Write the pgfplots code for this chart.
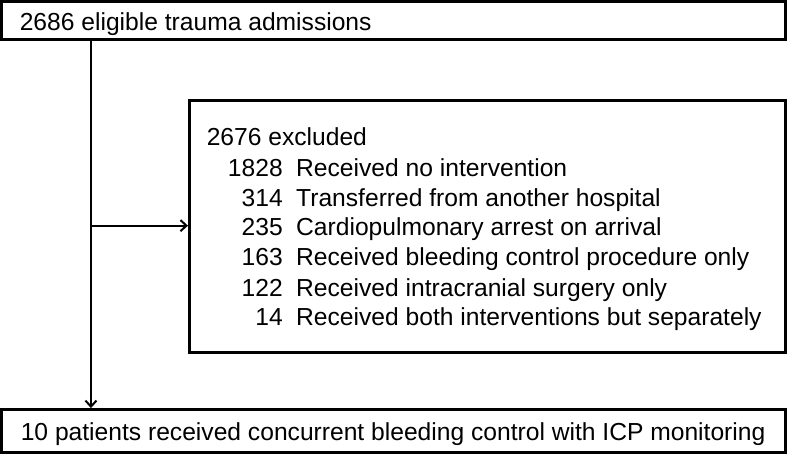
\documentclass[border=0pt]{standalone}
\usepackage{pgfplots}
\pgfplotsset{compat=1.18}
\usetikzlibrary{arrows.meta}
\usepackage{fontspec}
\setmainfont{Liberation Sans}
\tikzset{txt/.style={font=\fontsize{24.5bp}{29bp}\selectfont, inner sep=0pt}}
\begin{document}
\begin{tikzpicture}
\begin{axis}[
  scale only axis, width=787bp, height=457bp,
  xmin=0, xmax=787, ymin=0, ymax=457, y dir=reverse,
  hide axis, clip=false,
]
% boxes
\addplot[black, line width=3bp, line cap=rect, line join=miter] coordinates {(3,4) (783,4) (783,42) (3,42) (3,4)};
\addplot[black, line width=3bp, line cap=rect, line join=miter] coordinates {(190,102) (783,102) (783,353) (190,353) (190,102)};
\addplot[black, line width=3bp, line cap=rect, line join=miter] coordinates {(3,410) (783,410) (783,453) (3,453) (3,410)};
% connectors
\addplot[black, line width=2bp, -{Straight Barb[length=6bp,width=11bp,line width=2bp]}] coordinates {(92,43.5) (92,408.5)};
\addplot[black, line width=2bp, -{Straight Barb[length=6bp,width=11bp,line width=2bp]}] coordinates {(92,227) (188.5,227)};
% texts
\node[txt, anchor=base west] at (axis cs:21,33) {2686 eligible trauma admissions};
\node[txt, anchor=base west] at (axis cs:207,147) {2676 excluded};
\node[txt, anchor=base east] at (axis cs:283,178) {1828};
\node[txt, anchor=base west] at (axis cs:296,178) {Received no intervention};
\node[txt, anchor=base east] at (axis cs:283,207.5) {314};
\node[txt, anchor=base west] at (axis cs:296,207.5) {Transferred from another hospital};
\node[txt, anchor=base east] at (axis cs:283,237) {235};
\node[txt, anchor=base west] at (axis cs:296,237) {Cardiopulmonary arrest on arrival};
\node[txt, anchor=base east] at (axis cs:283,267) {163};
\node[txt, anchor=base west] at (axis cs:296,267) {Received bleeding control procedure only};
\node[txt, anchor=base east] at (axis cs:283,297) {122};
\node[txt, anchor=base west] at (axis cs:296,297) {Received intracranial surgery only};
\node[txt, anchor=base east] at (axis cs:283,326) {14};
\node[txt, anchor=base west] at (axis cs:296,326) {Received both interventions but separately};
\node[txt, anchor=base west] at (axis cs:22,441) {10 patients received concurrent bleeding control with ICP monitoring};
\end{axis}
\end{tikzpicture}
\end{document}
